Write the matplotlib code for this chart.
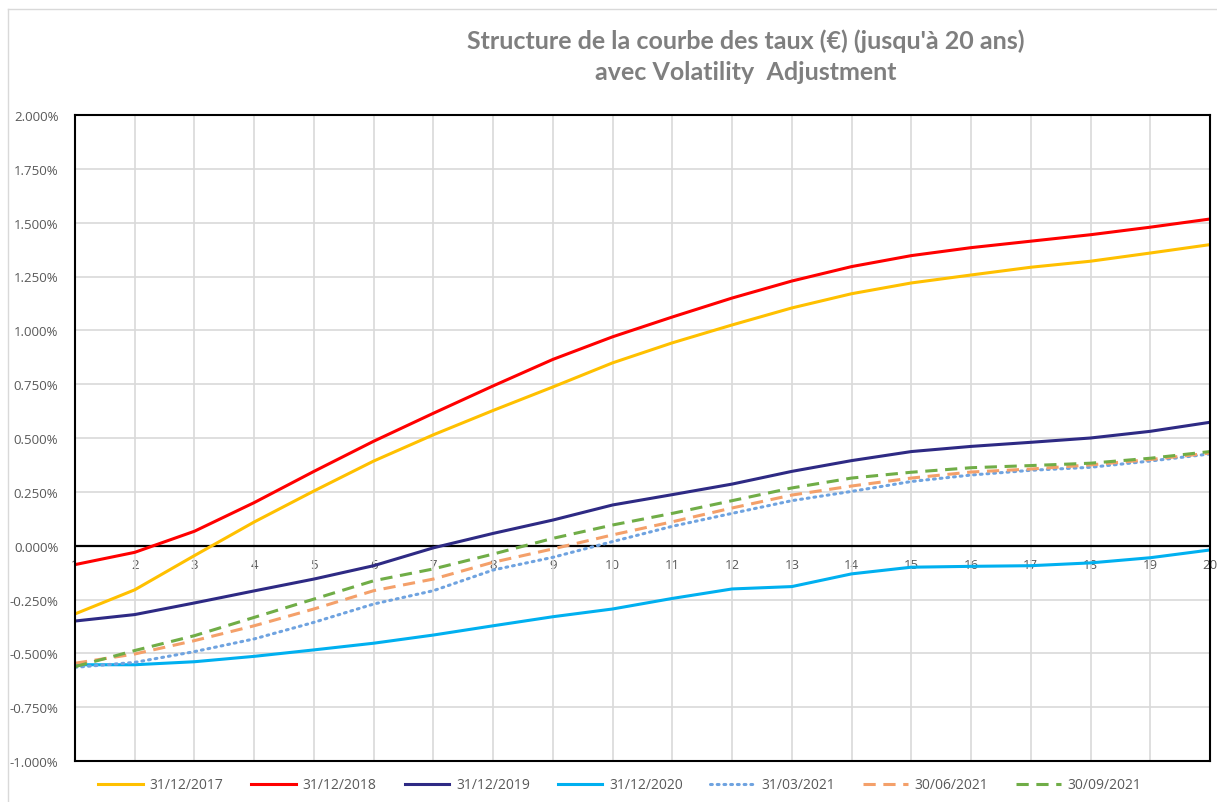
import matplotlib.pyplot as plt
from matplotlib.lines import Line2D
from matplotlib.ticker import FuncFormatter

plt.rcParams['font.family'] = ['Open Sans', 'DejaVu Sans']

# maturités (années) et taux en %
maturites = list(range(1, 21))

taux_2017 = [-0.317, -0.205, -0.046, 0.110, 0.254, 0.393, 0.515, 0.628, 0.737, 0.849,
             0.942, 1.025, 1.104, 1.170, 1.220, 1.257, 1.293, 1.321, 1.359, 1.398]
taux_2018 = [-0.088, -0.031, 0.067, 0.200, 0.345, 0.485, 0.615, 0.742, 0.865, 0.970,
             1.062, 1.150, 1.229, 1.296, 1.347, 1.384, 1.414, 1.444, 1.479, 1.517]
taux_2019 = [-0.350, -0.320, -0.266, -0.210, -0.155, -0.093, -0.010, 0.057, 0.119, 0.189,
             0.237, 0.286, 0.345, 0.395, 0.437, 0.461, 0.480, 0.500, 0.531, 0.573]
taux_2020 = [-0.553, -0.553, -0.539, -0.514, -0.484, -0.453, -0.415, -0.372, -0.330, -0.294,
             -0.245, -0.201, -0.190, -0.131, -0.100, -0.096, -0.093, -0.080, -0.056, -0.020]
taux_03_2021 = [-0.565, -0.542, -0.492, -0.433, -0.356, -0.271, -0.209, -0.113, -0.054, 0.019,
                0.090, 0.150, 0.209, 0.252, 0.298, 0.328, 0.350, 0.364, 0.393, 0.426]
taux_06_2021 = [-0.546, -0.503, -0.441, -0.372, -0.294, -0.209, -0.155, -0.077, -0.015, 0.050,
                0.111, 0.175, 0.235, 0.277, 0.314, 0.342, 0.356, 0.375, 0.400, 0.430]
taux_09_2021 = [-0.562, -0.487, -0.418, -0.333, -0.248, -0.163, -0.108, -0.039, 0.034, 0.096,
                0.150, 0.209, 0.268, 0.314, 0.341, 0.362, 0.372, 0.383, 0.406, 0.437]

fig = plt.figure(figsize=(12.17, 8.03), dpi=100)
ax = fig.add_axes([75 / 1217, 41 / 803, 1135 / 1217, 646 / 803])

# ligne zéro noire
ax.axhline(0, color='black', lw=1.6, zorder=1.5)

lw = 2.2
ax.plot(maturites, taux_2017, color='#FFC000', lw=lw, label='31/12/2017')
ax.plot(maturites, taux_2018, color='#FF0000', lw=lw, label='31/12/2018')
ax.plot(maturites, taux_2019, color='#2E2A84', lw=lw, label='31/12/2019')
ax.plot(maturites, taux_2020, color='#00B0F0', lw=lw, label='31/12/2020')
ax.plot(maturites, taux_03_2021, color='#6FA3E0', lw=lw, linestyle=(0, (0.6, 1.6)),
        dash_capstyle='round', label='31/03/2021')
ax.plot(maturites, taux_06_2021, color='#F4A06A', lw=lw, linestyle=(0, (4, 2.5)),
        label='30/06/2021')
ax.plot(maturites, taux_09_2021, color='#70AD47', lw=lw, linestyle=(0, (4, 2.5)),
        label='30/09/2021')

ax.set_xlim(1, 20)
ax.set_ylim(-1.0, 2.0)
ax.set_yticks([-1 + 0.25 * i for i in range(13)])
ax.yaxis.set_major_formatter(FuncFormatter(lambda v, p: f'{v:.3f}%'))
ax.set_xticks(maturites)
ax.tick_params(axis='x', labelbottom=False, length=0)
ax.tick_params(axis='y', length=0, pad=12, labelsize=9.5, labelcolor='#595959')
ax.grid(True, color='#d9d9d9', lw=1.2)
ax.set_axisbelow(True)
for s in ax.spines.values():
    s.set_color('black')
    s.set_linewidth(1.5)

# étiquettes des x placées sous la ligne zéro
sec = ax.secondary_xaxis(1 / 3)
sec.set_xticks(maturites)
sec.tick_params(length=0, pad=9, labelsize=9.5, labelcolor='#595959')
sec.spines['bottom'].set_visible(False)

fig.text(746 / 1217, 1 - 41 / 803, "Structure de la courbe des taux (€) (jusqu'à 20 ans)",
         ha='center', va='center', fontsize=18, fontweight='bold', color='#7f7f7f',
         family=['Lato', 'DejaVu Sans'])
fig.text(746 / 1217, 1 - 72 / 803, "avec Volatility  Adjustment",
         ha='center', va='center', fontsize=18, fontweight='bold', color='#7f7f7f',
         family=['Lato', 'DejaVu Sans'])

leg = fig.legend(loc='center', bbox_to_anchor=(620 / 1217, 1 - 786 / 803), ncol=7,
                 frameon=False, fontsize=10, handlelength=3.2, columnspacing=2.0,
                 handletextpad=0.5)
for t in leg.get_texts():
    t.set_color('#595959')

# cadre extérieur du graphique
fig.add_artist(Line2D([8 / 1217, 8 / 1217], [0, 1 - 10 / 803], color='#d9d9d9', lw=1))
fig.add_artist(Line2D([8 / 1217, 1], [1 - 10 / 803, 1 - 10 / 803], color='#d9d9d9', lw=1))

fig.savefig('out.png', dpi=100)
